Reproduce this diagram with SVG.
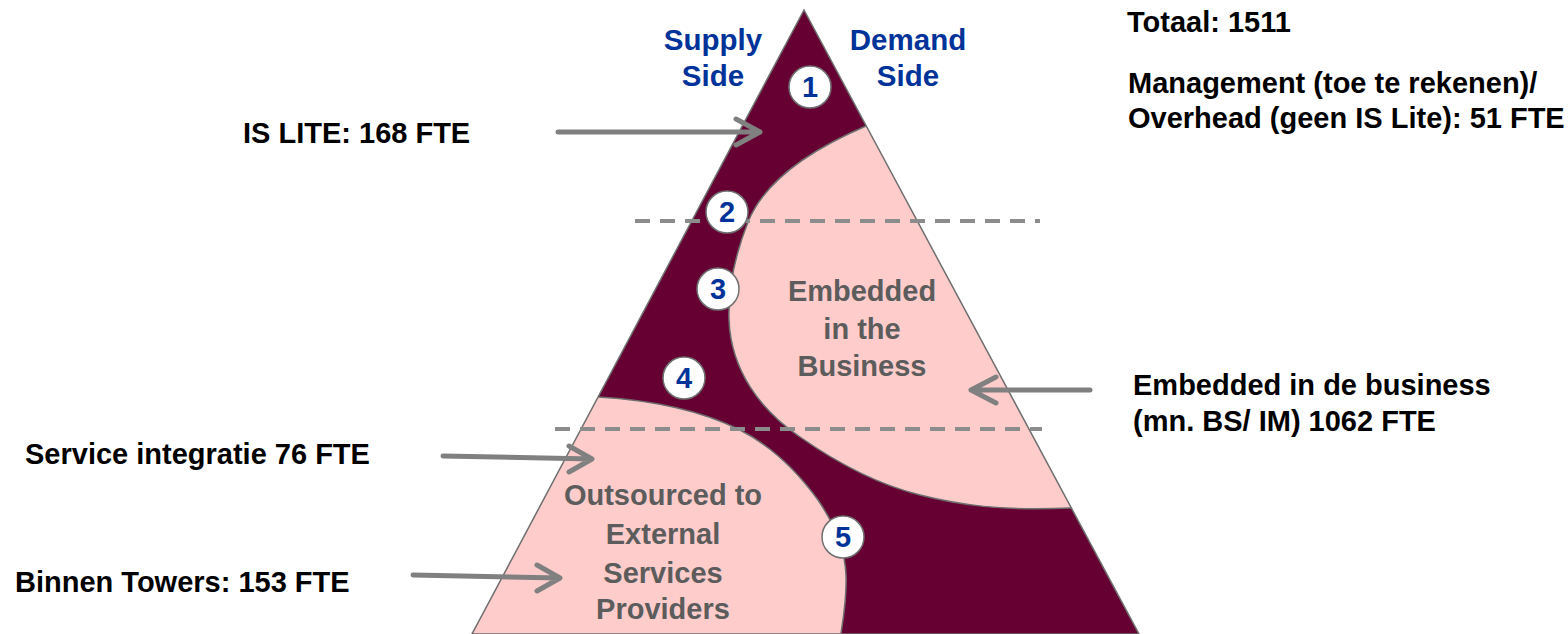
<svg xmlns="http://www.w3.org/2000/svg" width="1568" height="634" viewBox="0 0 1568 634">
<defs>
<style>
.lbl{font-family:"Liberation Sans",Arial,sans-serif;font-weight:bold;font-size:29px;fill:#000}
.side{font-family:"Liberation Sans",Arial,sans-serif;font-weight:bold;font-size:29.5px;fill:#003399;text-anchor:middle}
.zone{font-family:"Liberation Sans",Arial,sans-serif;font-weight:bold;font-size:29px;fill:#5c5c5c;text-anchor:middle}
.num{font-family:"Liberation Sans",Arial,sans-serif;font-weight:bold;font-size:29px;fill:#003399;text-anchor:middle}
.circ{fill:#fff;stroke:#707070;stroke-width:1.5}
.pink{fill:#FFCCCC;stroke:#6e6e6e;stroke-width:1.5}
.dash{stroke:#8c8c8c;stroke-width:4;stroke-dasharray:15 10;fill:none}
.arr{stroke:#808080;stroke-width:5;fill:none;stroke-linecap:round;stroke-linejoin:round}
</style>
<clipPath id="tri"><polygon points="804,10 472,634 1139,634"/></clipPath>
</defs>
<g id="pyramid">
<polygon points="804,10 472,634 1139,634" fill="#660033"/>
<g clip-path="url(#tri)">
<path id="embedded-region" class="pink" d="M866,126 C810,150 765,180 748,222 C735,255 728,290 729,320 C731,370 760,410 800,437 C840,465 880,485 920,495 C960,505 1000,511 1070,508 L1200,508 L1200,126 Z"/>
<path id="outsourced-region" class="pink" d="M598,397 C650,400 700,410 740,430 C775,448 800,475 818,500 C835,525 845,550 846,575 C847,600 843,620 840,640 L400,640 L400,397 Z"/>
</g>
<polygon points="804,10 472,634 1139,634" fill="none" stroke="#707070" stroke-width="1.5"/>
</g>
<g id="dividers">
<line class="dash" x1="635" y1="221" x2="1040" y2="221"/>
<line class="dash" x1="555" y1="429" x2="1042" y2="429"/>
</g>
<g id="zone-labels">
<text class="side" x="713" y="50">Supply</text>
<text class="side" x="713" y="86">Side</text>
<text class="side" x="908" y="50">Demand</text>
<text class="side" x="908" y="86">Side</text>
<text class="zone" x="862" y="301">Embedded</text>
<text class="zone" x="862" y="339">in the</text>
<text class="zone" x="862" y="376">Business</text>
<text class="zone" x="663" y="505">Outsourced to</text>
<text class="zone" x="663" y="544">External</text>
<text class="zone" x="663" y="583">Services</text>
<text class="zone" x="663" y="619">Providers</text>
</g>
<g id="markers">
<g id="m1"><circle class="circ" cx="810" cy="87" r="21"/><text class="num" x="810" y="97">1</text></g>
<g id="m2"><circle class="circ" cx="727" cy="212" r="21"/><text class="num" x="727" y="222">2</text></g>
<g id="m3"><circle class="circ" cx="718" cy="289" r="21"/><text class="num" x="718" y="299">3</text></g>
<g id="m4"><circle class="circ" cx="684" cy="378" r="21"/><text class="num" x="684" y="388">4</text></g>
<g id="m5"><circle class="circ" cx="843" cy="537" r="21"/><text class="num" x="843" y="547">5</text></g>
</g>
<g id="connectors">
<path class="arr" d="M558,132 L760,132 M736,119 L760,132 L736,145"/>
<path class="arr" d="M1090,390 L971,390 M996,377 L971,390 L996,403"/>
<path class="arr" d="M443,456 L592,459 M569,446 L592,459 L569,472"/>
<path class="arr" d="M413,575 L560,578 M537,565 L560,578 L537,591"/>
</g>
<g id="labels">
<text class="lbl" x="1127" y="32">Totaal: 1511</text>
<text class="lbl" x="1128" y="93">Management (toe te rekenen)/</text>
<text class="lbl" x="1128" y="128">Overhead (geen IS Lite): 51 FTE</text>
<text class="lbl" x="243" y="143">IS LITE: 168 FTE</text>
<text class="lbl" x="1133" y="395">Embedded in de business</text>
<text class="lbl" x="1133" y="431">(mn. BS/ IM) 1062 FTE</text>
<text class="lbl" x="25" y="464">Service integratie 76 FTE</text>
<text class="lbl" x="15" y="592">Binnen Towers: 153 FTE</text>
</g>
</svg>
